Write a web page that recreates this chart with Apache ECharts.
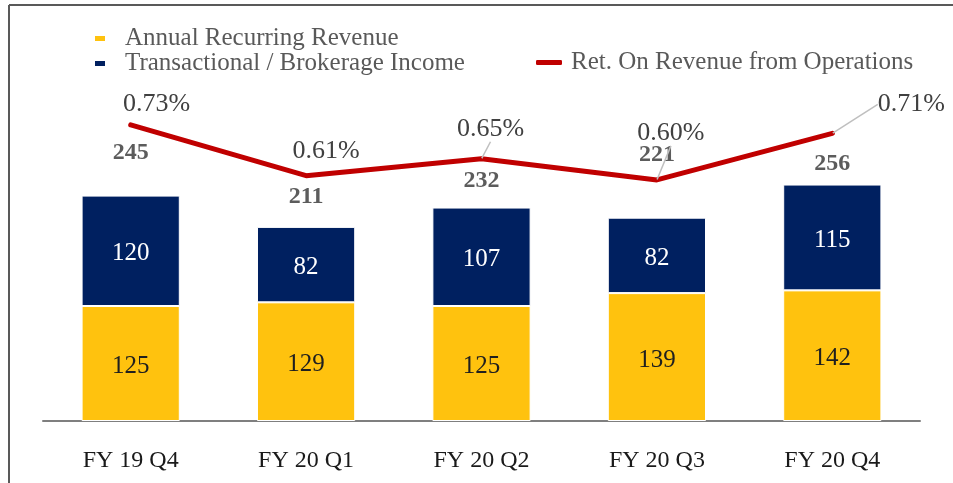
<!DOCTYPE html>
<html>
<head>
<meta charset="utf-8">
<script src="https://cdn.jsdelivr.net/npm/echarts@6/dist/echarts.min.js"></script>
<style>
  html, body { margin: 0; padding: 0; background: #fff; }
  #chart { width: 953px; height: 483px; }
</style>
</head>
<body>
<div id="chart"></div>
<script>
const quarters = ["FY 19 Q4", "FY 20 Q1", "FY 20 Q2", "FY 20 Q3", "FY 20 Q4"];
const recurring = [125, 129, 125, 139, 142];
const transactional = [120, 82, 107, 82, 115];
const totals = [245, 211, 232, 221, 256];
const retOnRevenue = [0.73, 0.61, 0.65, 0.60, 0.71];

// label nudges (px)
const totalLift = [-43, -30, -27, -63, -22];
const pctShift = [[26, -21], [20, -24], [9, -30], [14, -47], [79, -29]];
const pctLeader = [false, false, true, true, true];

const font = '"Liberation Serif", serif';

const chart = echarts.init(document.getElementById("chart"));

const option = {
  animation: false,
  textStyle: { fontFamily: font },
  graphic: [
    { type: "line", shape: { x1: 9, y1: 5, x2: 953, y2: 5 }, style: { stroke: "#595959", lineWidth: 2 } },
    { type: "line", shape: { x1: 9, y1: 5, x2: 9, y2: 483 }, style: { stroke: "#595959", lineWidth: 2 } },
  ],
  legend: [
    {
      data: ["Annual Recurring Revenue", "Transactional / Brokerage Income"],
      orient: "vertical",
      left: 88,
      top: 21,
      itemWidth: 12,
      itemHeight: 7,
      itemGap: 0,
      icon: "rect",
      textStyle: { fontFamily: font, fontSize: 25, color: "#595959", padding: [0, 0, 0, 14] },
    },
    {
      data: ["Ret. On Revenue from Operations"],
      left: 531,
      top: 45,
      itemWidth: 26,
      itemHeight: 5,
      icon: "roundRect",
      textStyle: { fontFamily: font, fontSize: 25, color: "#595959", padding: [0, 0, 0, 4] },
    },
  ],
  grid: { left: 43, right: 33, top: 53, bottom: 62 },
  xAxis: {
    type: "category",
    data: quarters,
    axisLine: { lineStyle: { color: "#7f7f7f", width: 2 } },
    axisTick: { show: false },
    axisLabel: { fontFamily: font, fontSize: 24, color: "#1a1a1a", margin: 28 },
  },
  yAxis: [
    { type: "value", min: 0, max: 400, show: false },
    { type: "value", min: 0.03, max: 0.9, show: false },
  ],
  series: [
    {
      name: "Annual Recurring Revenue",
      type: "bar",
      stack: "rev",
      data: recurring,
      barWidth: "56%",
      itemStyle: { color: "#FFC20E", borderColor: "#fff", borderWidth: 1 },
      label: { show: true, position: "inside", offset: [0, 3], fontFamily: font, fontSize: 25, color: "#1f1f1f" },
    },
    {
      name: "Transactional / Brokerage Income",
      type: "bar",
      stack: "rev",
      data: transactional,
      barWidth: "56%",
      itemStyle: { color: "#002060", borderColor: "#fff", borderWidth: 1 },
      label: { show: true, position: "inside", offset: [0, 3], fontFamily: font, fontSize: 25, color: "#fff" },
    },
    {
      name: "Total",
      type: "scatter",
      data: totals.map((v, i) => ({
        value: v,
        label: { offset: [0, totalLift[i]] },
      })),
      symbolSize: 1,
      itemStyle: { color: "rgba(0,0,0,0)" },
      label: {
        show: true,
        position: "inside",
        fontFamily: font,
        fontSize: 24,
        fontWeight: "bold",
        color: "#333333",
      },
      z: 1,
    },
    {
      name: "Ret. On Revenue from Operations",
      type: "line",
      yAxisIndex: 1,
      data: retOnRevenue.map((v, i) => ({
        value: v,
        labelLine: { show: pctLeader[i] },
      })),
      symbol: "circle",
      symbolSize: 1,
      lineStyle: { color: "#C00000", width: 5, cap: "round" },
      itemStyle: { color: "#C00000" },
      label: {
        show: true,
        position: "inside",
        fontFamily: font,
        fontSize: 26,
        color: "#404040",
        formatter: (p) => p.value.toFixed(2) + "%",
      },
      labelLine: { lineStyle: { color: "#bfbfbf", width: 1.5 } },
      labelLayout: (p) => ({ dx: pctShift[p.dataIndex][0], dy: pctShift[p.dataIndex][1] }),
      z: 5,
    },
  ],
};

chart.setOption(option);
</script>
</body>
</html>
